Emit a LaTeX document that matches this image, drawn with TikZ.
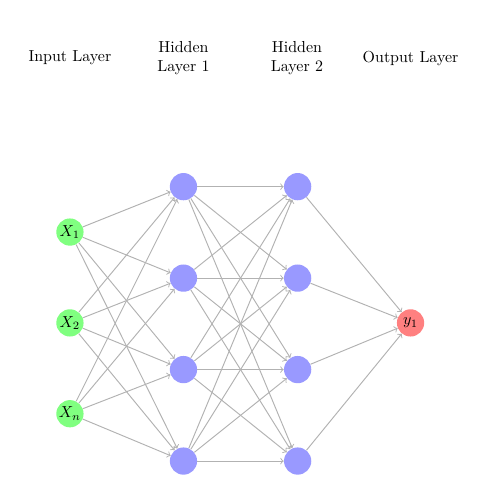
\documentclass[tikz,border=0pt]{standalone}
\usetikzlibrary{positioning}

\begin{document}
\begin{tikzpicture}[
        neuron/.style={circle, minimum size=0.6cm, inner sep=0pt},
        innode/.style={neuron, fill=green!50},
        hidnode/.style={neuron, fill=blue!40},
        outnode/.style={neuron, fill=red!50},
        lbl/.style={align=center},
        conn/.style={->, black!30, line width=0.6pt}
      ]
        \useasboundingbox (-1.54,-3.79) rectangle (9.47,7.11);

        % input layer
        \node[innode] (i1) at (0,2) {$X_1$};
        \node[innode] (i2) at (0,0) {$X_2$};
        \node[innode] (i3) at (0,-2) {$X_n$};

        % hidden layers
        \node[hidnode] (h1) at (2.5,3) {};
        \node[hidnode, below=1.4cm of h1] (h2) {};
        \node[hidnode, below=1.4cm of h2] (h3) {};
        \node[hidnode, below=1.4cm of h3] (h4) {};
        \node[hidnode, right=1.9cm of h1] (g1) {};
        \node[hidnode, right=1.9cm of h2] (g2) {};
        \node[hidnode, right=1.9cm of h3] (g3) {};
        \node[hidnode, right=1.9cm of h4] (g4) {};

        % output layer
        \node[outnode] (o1) at (7.5,0) {$y_1$};

        \node[lbl] (lin) at (0,5.83) {Input Layer};
        \node[lbl] (lh1) at (2.5,5.83) {Hidden\\Layer 1};
        \node[lbl] (lh2) at (5,5.83) {Hidden\\Layer 2};
        \node[lbl] (lout) at (7.5,5.83) {Output Layer};

        \foreach \a in {1,2,3}
          \foreach \b in {1,...,4}
            \draw[conn] (i\a) -- (h\b);
        \foreach \a in {1,...,4}
          \foreach \b in {1,...,4}
            \draw[conn] (h\a) -- (g\b);
        \foreach \a in {1,...,4}
          \draw[conn] (g\a) -- (o1);
      \end{tikzpicture}
\end{document}
